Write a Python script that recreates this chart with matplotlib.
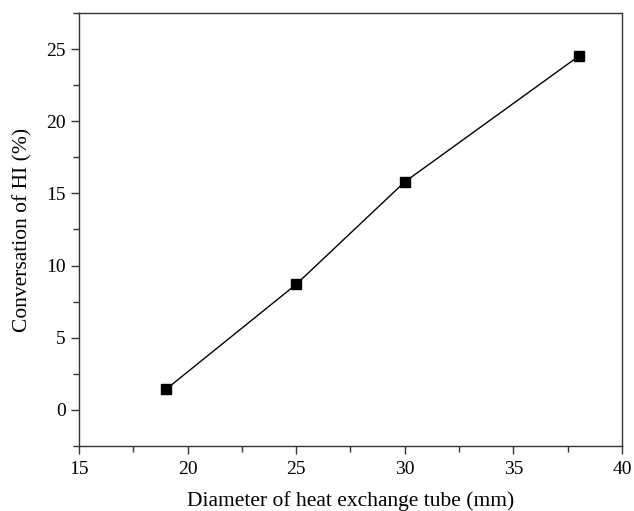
import matplotlib
matplotlib.use("Agg")
import matplotlib.pyplot as plt
from matplotlib.ticker import MultipleLocator

diameter = [19, 25, 30, 38]
conversion = [1.42, 8.7, 15.8, 24.5]

plt.rcParams['font.family'] = ['Liberation Serif', 'DejaVu Serif']

fig = plt.figure(figsize=(6.34, 5.11), dpi=100)
ax = fig.add_axes([79/634, 1-446/511, (622-79)/634, (446-13)/511])
ax.plot(diameter, conversion, color='black', lw=1.0, marker='s', ms=7, mfc='black', mec='black')
ax.set_xlim(15, 40)
ax.set_ylim(-2.5, 27.5)
ax.xaxis.set_major_locator(MultipleLocator(5))
ax.xaxis.set_minor_locator(MultipleLocator(2.5))
ax.yaxis.set_major_locator(MultipleLocator(5))
ax.yaxis.set_minor_locator(MultipleLocator(2.5))
ax.tick_params(which='both', direction='out', top=False, right=False, labelsize=14, width=1.0, color='#333333')
ax.tick_params(which='major', length=6)
ax.tick_params(which='minor', length=4)
ax.tick_params(axis='x', which='major', pad=5)
for s in ax.spines.values():
    s.set_linewidth(1.0)
    s.set_color('#333333')
ax.set_xlabel('Diameter of heat exchange tube (mm)', fontsize=15.5, labelpad=9)
ax.set_ylabel('Conversation of HI (%)', fontsize=15.5, labelpad=10)
fig.savefig('out.png', dpi=100)
